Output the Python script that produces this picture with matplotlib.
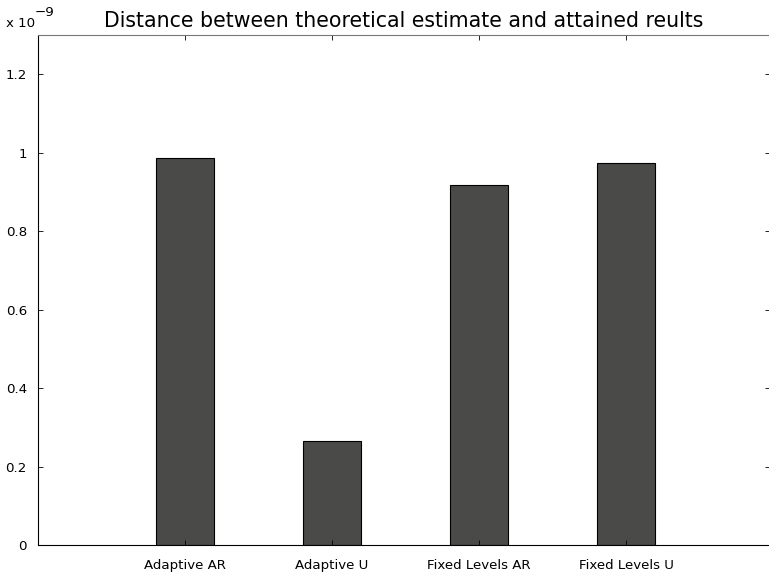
import numpy as np
import matplotlib
matplotlib.use('Agg')
import matplotlib.pyplot as plt

categories = ['Adaptive AR', 'Adaptive U', 'Fixed Levels AR', 'Fixed Levels U']
values = [0.986e-9, 0.265e-9, 0.917e-9, 0.973e-9]
yticks = [0, 0.2e-9, 0.4e-9, 0.6e-9, 0.8e-9, 1.0e-9, 1.2e-9]
ytick_labels = ['0', '0.2', '0.4', '0.6', '0.8', '1', '1.2']

fig = plt.figure(figsize=(7.69, 5.77), dpi=100)
# right edge of the axes falls just outside the image, as in the original
ax = fig.add_axes([38 / 769, 32 / 577, 732 / 769, 510 / 577])

x = np.arange(1, len(categories) + 1)
ax.bar(x, values, width=0.4, color='#4a4a48', edgecolor='black', linewidth=0.8)

ax.set_xlim(0, 732 / 147)
ax.set_ylim(0, 1.3e-9)
ax.set_xticks(x)
ax.set_xticklabels(categories, fontsize=9.6)
ax.set_yticks(yticks)
ax.set_yticklabels(ytick_labels, fontsize=9.6)
ax.tick_params(direction='in', length=3.6, width=0.6, top=True, right=True, pad=8)
ax.tick_params(axis='x', pad=10)

ax.spines['top'].set_color('#777777')
ax.spines['right'].set_visible(False)
ax.spines['left'].set_linewidth(0.8)
ax.spines['bottom'].set_linewidth(0.8)

ax.set_title('Distance between theoretical estimate and attained reults', fontsize=14.8, pad=6)
# exponent label in the top left corner
fig.text(6 / 769, 1 - 27 / 577, 'x 10', fontsize=9.6)
fig.text(35 / 769, 1 - 16 / 577, '\u22129', fontsize=9.6)

plt.savefig('out.png', dpi=100)
